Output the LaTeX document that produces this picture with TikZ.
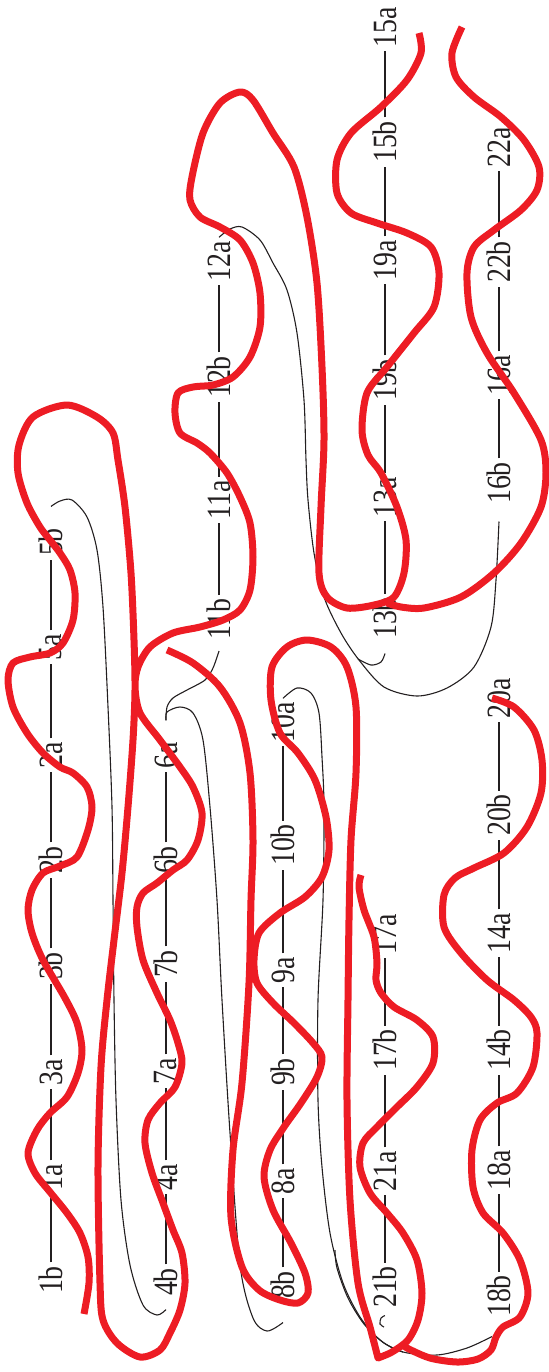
\documentclass[tikz,border=0pt]{standalone}
\usepackage{fontspec}
\newfontfamily\tagserif[FakeStretch=0.82]{Liberation Serif}
\usepackage{tikz}
\definecolor{StrandRed}{RGB}{237,28,36}
\definecolor{InkGray}{RGB}{35,31,32}
\tikzset{
    strand/.style={line width=3.5pt,StrandRed,line cap=butt,line join=round},
    loopline/.style={line width=0.55pt,InkGray},
    link/.style={line width=0.65pt,InkGray},
    tag/.style={rotate=90,inner xsep=1.6pt,inner ysep=0pt,text=InkGray,font=\tagserif\fontsize{17}{17}\selectfont}
}

\begin{document}
\begin{tikzpicture}[x=0.5pt,y=-0.5pt]
\useasboundingbox (0,0) rectangle (549,1372);

% labels, first column
\node[tag] (l1b) at (51,1280) {1b};
\node[tag] (l1a) at (51,1177) {1a};
\node[tag] (l3a) at (51,1072) {3a};
\node[tag] (l3b) at (51,966) {3b};
\node[tag] (l2b) at (51,860) {2b};
\node[tag] (l2a) at (51,755) {2a};
\node[tag] (l5a) at (51,647) {5a};
\node[tag] (l5b) at (51,542) {5b};

% second column
\node[tag] (l4b) at (166,1282) {4b};
\node[tag] (l4a) at (166,1177) {4a};
\node[tag] (l7a) at (166,1071) {7a};
\node[tag] (l7b) at (166,964) {7b};
\node[tag] (l6b) at (166,860) {6b};
\node[tag] (l6a) at (166,755) {6a};

% third column
\node[tag] (l8b) at (283,1285) {8b};
\node[tag] (l8a) at (283,1181) {8a};
\node[tag] (l9b) at (283,1072) {9b};
\node[tag] (l9a) at (283,970) {9a};
\node[tag] (l10b) at (283,845) {10b};
\node[tag] (l10a) at (283,722) {10a};

\node[tag] (l11b) at (219,619) {11b};
\node[tag] (l11a) at (219,500) {11a};
\node[tag] (l12b) at (219,377) {12b};
\node[tag] (l12a) at (219,261) {12a};

% fourth column
\node[tag] (l21b) at (385,1287) {21b};
\node[tag] (l21a) at (385,1171) {21a};
\node[tag] (l17b) at (385,1050) {17b};
\node[tag] (l17a) at (385,934) {17a};

\node[tag] (l13b) at (385,618) {13b};
\node[tag] (l13a) at (385,497) {13a};
\node[tag] (l19b) at (385,380) {19b};
\node[tag] (l19a) at (385,260) {19a};
\node[tag] (l15b) at (385,142) {15b};
\node[tag] (l15a) at (385,27) {15a};

% fifth column
\node[tag] (l18b) at (499,1296) {18b};
\node[tag] (l18a) at (499,1170) {18a};
\node[tag] (l14b) at (499,1050) {14b};
\node[tag] (l14a) at (499,933) {14a};
\node[tag] (l20b) at (499,815) {20b};
\node[tag] (l20a) at (499,698) {20a};

\node[tag] (l16b) at (499,483) {16b};
\node[tag] (l16a) at (499,375) {16a};
\node[tag] (l22b) at (499,262) {22b};
\node[tag] (l22a) at (499,147) {22a};

% links
\draw[link] (l1b) -- (l1a) (l1a) -- (l3a) (l3a) -- (l3b) (l3b) -- (l2b)
    (l2b) -- (l2a) (l2a) -- (l5a) (l5a) -- (l5b);
\draw[link] (l4b) -- (l4a) (l4a) -- (l7a) (l7a) -- (l7b) (l7b) -- (l6b) (l6b) -- (l6a);
\draw[link] (l8b) -- (l8a) (l8a) -- (l9b) (l9b) -- (l9a) (l9a) -- (l10b) (l10b) -- (l10a);
\draw[link] (l11b) -- (l11a) (l11a) -- (l12b) (l12b) -- (l12a);
\draw[link] (l21b) -- (l21a) (l21a) -- (l17b) (l17b) -- (l17a);
\draw[link] (l13b) -- (l13a) (l13a) -- (l19b) (l19b) -- (l19a) (l19a) -- (l15b) (l15b) -- (l15a);
\draw[link] (l18b) -- (l18a) (l18a) -- (l14b) (l14b) -- (l14a) (l14a) -- (l20b) (l20b) -- (l20a);
\draw[link] (l16b) -- (l16a) (l16a) -- (l22b) (l22b) -- (l22a);

% thin loops
\draw[loopline] plot[smooth] coordinates {([yshift=9pt]l5b.east) (60,501) (72,500) (87,517) (97,550)
    (103,607) (108,707) (112,807) (113,900) (114,1000) (116,1100) (121,1200) (130,1265) (143,1305)
    (157,1315) ([yshift=-5pt]l4b.west)};
\draw[loopline] plot[smooth] coordinates {([yshift=-4pt]l11b.west) (213,668) (205,680) (187,690)
    (173,698) (167,707) ([yshift=9pt]l6a.east)};
\draw[loopline] plot[smooth] coordinates {([yshift=9pt]l6a.east) (167,712) (180,707) (193,713)
    (203,740) (210,807) (217,900) (222,1000) (230,1133) (240,1265) (253,1318) (267,1331)
    ([yshift=-10pt]l8b.west)};
\draw[loopline] plot[smooth] coordinates {(l12a.east) (230,229) (242,227) (260,240) (273,263)
    (287,290) (297,333) (304,400) (306,460) (308,500) (314,553) (324,597) (341,633) (359,660)
    (384,687) (417,696) (447,688) (474,667) (491,627) (496,580) ([yshift=-7pt]l16b.west)};
\draw[loopline] plot[smooth] coordinates {([yshift=-5.5pt]l13b.west) (381,662) (371,665) (358,659)};
\draw[loopline] plot[smooth] coordinates {(l10a.east) (297,688) (311,693) (319,713) (322,757)
    (324,807) (323,900) (318,1000) (318,1100) (322,1167) (330,1233) (343,1283) (360,1317)
    (380,1340) (403,1352) (437,1355) (467,1348) ([xshift=-3.5pt,yshift=-8pt]l18b.west)};
\draw[loopline] plot[smooth] coordinates {(335,1250) (337,1268) (348,1298) (364,1324) (384,1343) (403,1352)};
\draw[loopline] plot[smooth] coordinates {([yshift=-2pt]l21b.west) (381,1318) (380,1324) (384,1327)};

% red strands
\draw[strand] plot[smooth] coordinates {(84,1314) (89,1283) (88,1257) (80,1233) (67,1213) (50,1192)
    (35,1173) (28,1153) (37,1130) (50,1113) (67,1097) (78,1073) (82,1050) (77,1023) (65,998)
    (43,960) (32,933) (28,910) (32,890) (43,873) (60,866) (77,857) (88,830) (92,807) (87,787)
    (73,773) (60,767) (43,753) (27,733) (13,707) (8,680) (13,663) (30,657) (50,653) (63,643)
    (73,620) (75,593) (70,570) (60,553) (50,540) (40,527) (27,503) (18,473) (19,445) (33,417)
    (67,405) (97,417) (113,433) (118,460) (125,507) (131,573) (134,640) (135,690) (133,740)
    (128,807) (122,873) (114,940) (107,1000) (101,1067) (98,1167) (100,1283) (103,1320)
    (117,1343) (140,1357) (160,1350) (170,1333) (180,1310) (185,1283) (182,1253) (173,1230)
    (163,1203) (152,1173) (145,1143) (148,1120) (160,1103) (175,1087) (182,1063) (178,1043)
    (170,1020) (157,993) (143,960) (137,927) (137,907) (143,893) (157,883) (173,870) (187,860)
    (198,840) (202,813) (193,787) (180,767) (160,740) (140,713) (135,687) (138,667) (150,647)
    (173,633) (200,627) (223,620) (240,610) (250,590) (253,557) (250,523) (240,497) (227,473)
    (210,453) (197,443) (180,433) (175,413) (178,393) (193,387) (213,385) (233,377) (250,357)
    (260,327) (260,293) (253,263) (240,240) (220,227) (200,217) (190,200) (192,177) (203,133)
    (220,103) (240,92) (253,100) (273,133) (294,167) (307,217) (317,283) (322,367) (324,440)
    (321,507) (319,573) (327,597) (347,608) (374,605) (394,597) (404,573) (406,540) (397,507)
    (381,473) (368,455) (362,430) (367,393) (387,367) (414,333) (434,307) (439,273) (431,247)
    (407,233) (377,223) (351,213) (337,193) (337,160) (351,133) (381,107) (407,80) (421,53)
    (419,33)};
\draw[strand] plot[smooth] coordinates {(167,650) (193,663) (220,687) (240,723) (250,773) (253,840)
    (251,900) (249,983) (242,1083) (233,1150) (231,1217) (242,1267) (259,1290) (280,1300)
    (298,1303) (308,1293) (305,1273) (291,1243) (273,1210) (264,1177) (270,1150) (284,1127)
    (301,1103) (317,1077) (322,1057) (313,1043) (294,1023) (273,1003) (257,983) (254,960)
    (259,933) (280,913) (305,897) (322,877) (329,850) (326,817) (315,780) (298,753) (280,733)
    (271,700) (272,667) (287,647) (307,640) (331,647) (347,667) (356,707) (356,773) (351,840)
    (349,920) (348,1000) (347,1100) (350,1200) (358,1283) (370,1327) (378,1358)}
    -- plot[smooth] coordinates {(378,1358) (392,1352) (408,1340) (418,1320) (422,1293)
    (417,1260) (403,1233) (387,1213) (370,1193) (360,1167) (363,1143) (377,1127) (397,1107)
    (417,1087) (433,1063) (433,1037) (417,1020) (394,1007) (381,993) (376,980) (377,963)
    (374,937) (364,910) (359,887) (361,875)};
\draw[strand] plot[smooth] coordinates {(492,698) (514,707) (534,730) (542,760) (541,793) (527,827)
    (504,853) (474,868) (455,878) (444,895) (444,927) (461,953) (487,980) (514,1000) (531,1017)
    (537,1033) (533,1067) (517,1093) (497,1103) (480,1120) (472,1150) (473,1187) (483,1213)
    (503,1233) (520,1260) (528,1293) (520,1317) (503,1327) (496,1337) (491,1350) (478,1359)
    (457,1362) (430,1358) (407,1348) (402,1343)};
\draw[strand] plot[smooth] coordinates {(462,27) (452,53) (456,77) (474,97) (501,117) (524,140)
    (539,167) (537,190) (521,210) (494,230) (474,247) (467,273) (471,317) (487,353) (514,393)
    (541,440) (546,473) (541,507) (521,543) (494,573) (461,597) (424,608) (401,607) (387,603)};
\end{tikzpicture}
\end{document}
